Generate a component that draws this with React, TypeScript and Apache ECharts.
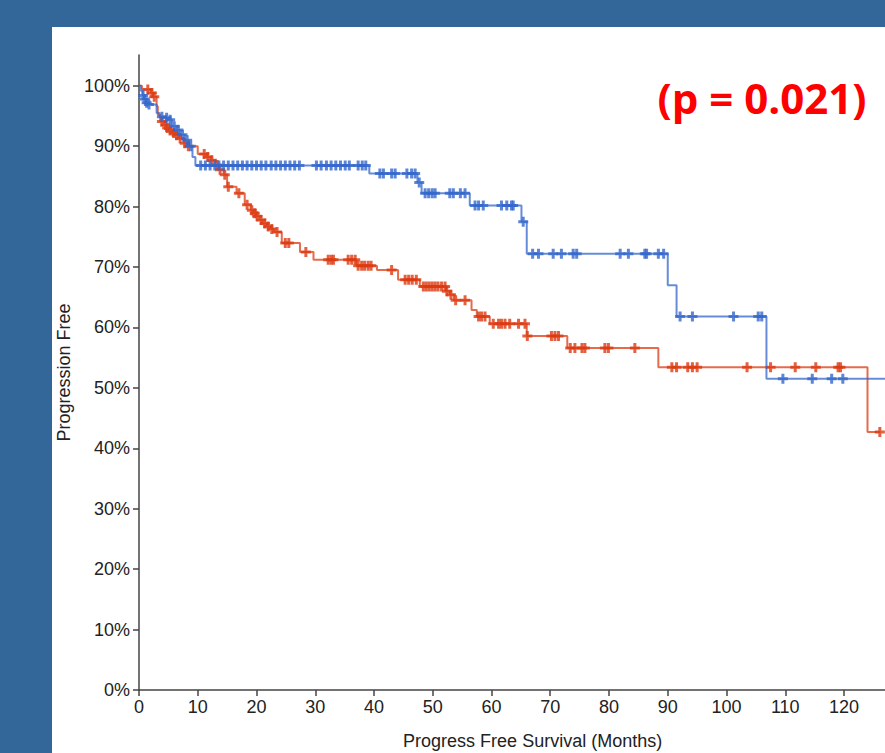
import React, { useEffect, useRef } from "react";
import * as echarts from "echarts";

// ---- data ----
const xTickValues = [0, 10, 20, 30, 40, 50, 60, 70, 80, 90, 100, 110, 120];
const xTickMarks = [0, 10, 20, 30, 40, 50, 60, 70, 80, 90, 100, 110, 120, 130];
const yTickValues = [0, 10, 20, 30, 40, 50, 60, 70, 80, 90, 100];

// Blue group: step times (months) and survival (%) after each step
const blueStepT = [0, 0.3, 0.6, 0.9, 1.2, 1.5, 3.0, 3.5, 4.4, 5.0, 5.6, 6.4, 7.0, 7.8, 8.5, 9.1, 9.6, 39.2, 47.4, 48.1, 56.3, 65.1, 66.0, 90.0, 91.5, 106.8];
const blueStepS = [100, 99.2, 98.4, 97.8, 97.2, 96.9, 95.5, 94.9, 94.7, 94.4, 93.3, 92.7, 91.9, 91.0, 90.0, 88.2, 86.8, 85.5, 84.0, 82.2, 80.2, 77.5, 72.2, 67.0, 61.8, 51.5];
const blueEndT = 134;
const blueCensorT = [
  0.7, 1.0, 1.3, 1.7, 3.9, 4.7, 5.3, 6.0, 6.7, 7.4, 8.2, 8.8,
  10.5, 11.3, 12.1, 12.9, 13.6, 14.4, 15.2, 16.0, 16.8, 17.6, 18.4, 19.2, 20.0, 20.8, 21.6, 22.5, 23.3, 24.1, 24.9, 25.7, 26.5, 27.3,
  30.2, 31.0, 31.9, 32.7, 33.5, 34.3, 35.1, 35.8, 37.3, 38.0, 38.6,
  41.0, 41.6, 43.0, 43.6, 45.6, 46.4, 47.0, 47.7, 48.7, 49.3, 49.9, 50.4, 52.9, 53.5, 54.7, 55.5,
  57.2, 57.8, 58.6, 61.7, 62.6, 63.4, 63.7, 65.4, 67.0, 68.0, 70.5, 71.9, 73.9, 74.5,
  81.9, 83.3, 86.1, 86.4, 88.4, 89.3, 92.1, 94.2, 101.2, 105.4, 106.0, 109.6, 114.6, 117.9, 119.8,
];

// Red group
const redStepT = [0, 0.5, 2.0, 2.4, 3.0, 3.2, 3.6, 4.3, 4.7, 5.1, 5.6, 6.2, 6.8, 7.6, 8.3, 10.0, 11.5, 12.2, 13.0, 13.6, 14.4, 15.0, 16.6, 18.0, 19.0, 19.5, 19.9, 20.5, 21.0, 21.8, 22.4, 23.0, 24.3, 27.4, 29.7, 37.0, 40.5, 44.1, 47.8, 52.3, 52.9, 53.6, 56.6, 57.5, 59.7, 66.0, 72.9, 88.4, 124.0];
const redStepS = [100, 99.4, 98.8, 98.2, 96.6, 95.2, 94.1, 93.5, 93.0, 92.6, 92.2, 91.8, 91.3, 90.5, 90.0, 88.7, 88.2, 87.7, 86.9, 86.1, 85.3, 83.3, 82.2, 80.3, 79.4, 78.9, 78.4, 77.8, 77.2, 76.7, 76.3, 75.8, 74.0, 72.5, 71.2, 70.2, 69.5, 67.9, 66.8, 66.0, 65.4, 64.5, 62.9, 61.8, 60.6, 58.6, 56.6, 53.4, 42.7];
const redEndT = 126.2;
const redCensorT = [
  1.5, 2.2, 2.6, 3.9, 4.5, 4.8, 5.3, 5.9, 6.4, 7.0, 7.8, 8.4,
  11.1, 11.7, 12.4, 13.3, 13.8, 14.6, 15.2, 17.0, 18.4, 19.2, 19.7, 20.1, 20.8, 21.4, 22.0, 22.6, 23.5, 24.9, 25.5, 28.4,
  32.2, 32.7, 33.1, 35.6, 36.2, 36.8, 37.3, 37.9, 38.4, 39.0, 39.5, 43.0, 45.3, 45.9, 46.5, 47.2,
  48.4, 48.9, 49.4, 49.9, 50.4, 50.9, 51.5, 52.1, 52.4, 53.1, 53.9, 55.5, 57.8, 58.3, 58.9,
  60.3, 61.2, 61.7, 62.3, 63.1, 64.6, 65.7, 66.1, 70.2, 70.8, 71.4, 73.4, 74.2, 75.4, 75.9, 79.3, 79.9, 84.4,
  90.7, 91.5, 93.4, 94.2, 95.0, 103.5, 107.5, 111.7, 115.2, 119.0, 119.4, 126.1,
];

const BLUE = "#3366CC";
const RED = "#DC3912";
const PLUS = "path://M3.5,0H6.5V3.5H10V6.5H6.5V10H3.5V6.5H0V3.5H3.5Z";

function survivalAt(ts: number[], ss: number[], t: number): number {
  let s = ss[0];
  for (let i = 0; i < ts.length; i++) if (ts[i] <= t) s = ss[i];
  return s;
}
function stepPoints(ts: number[], ss: number[], endT: number) {
  const pts = ts.map((t, i) => [t, ss[i]]);
  pts.push([endT, ss[ss.length - 1]]);
  return pts;
}
function censorPoints(ct: number[], ts: number[], ss: number[]) {
  return ct.map((t) => [t, survivalAt(ts, ss, t)]);
}

const FONT = "'Liberation Sans', Arial, sans-serif";

export default function App() {
  const ref = useRef<HTMLDivElement>(null);
  useEffect(() => {
    if (!ref.current) return;
    const chart = echarts.init(ref.current, undefined, { renderer: "svg" });
    chart.setOption({
      animation: false,
      grid: { left: 87, top: 28, bottom: 63, right: -41.25, containLabel: false, outerBoundsMode: "none" },
      xAxis: {
        type: "value",
        min: 0,
        max: 134,
        interval: 10,
        name: "Progress Free Survival (Months)",
        nameLocation: "middle",
        nameGap: 42,
        nameTextStyle: { fontSize: 18, color: "#222", fontFamily: FONT },
        axisLine: { show: true, onZero: false, lineStyle: { color: "#444", width: 1.5 } },
        axisTick: { show: true, length: 6, lineStyle: { color: "#444", width: 1.5 }, customValues: xTickMarks },
        axisLabel: { fontSize: 18, color: "#222", fontFamily: FONT, margin: 8, customValues: xTickValues },
        splitLine: { show: false },
      },
      yAxis: {
        type: "value",
        min: 0,
        max: 105.1,
        interval: 10,
        name: "Progression Free",
        nameLocation: "middle",
        nameGap: 65,
        nameTextStyle: { fontSize: 18, color: "#222", fontFamily: FONT },
        axisLine: { show: true, lineStyle: { color: "#444", width: 1.5 } },
        axisTick: { show: true, length: 6, lineStyle: { color: "#444", width: 1.5 }, customValues: yTickValues },
        axisLabel: {
          fontSize: 18,
          color: "#222",
          fontFamily: FONT,
          margin: 9,
          customValues: yTickValues,
          formatter: (v: number) => (v % 10 === 0 && v <= 100 ? v + "%" : ""),
        },
        splitLine: { show: false },
      },
      graphic: [
        {
          type: "text",
          x: 710,
          y: 70,
          style: {
            text: "(p = 0.021)",
            fill: "#ff0000",
            fontSize: 42,
            fontWeight: "bold",
            fontFamily: "'Open Sans', sans-serif",
            align: "center",
            verticalAlign: "middle",
          },
        },
      ],
      series: [
        {
          type: "line",
          step: "end",
          data: stepPoints(redStepT, redStepS, redEndT),
          showSymbol: false,
          symbol: "none",
          lineStyle: { color: RED, width: 2, opacity: 0.75 },
          z: 2,
        },
        {
          type: "scatter",
          data: censorPoints(redCensorT, redStepT, redStepS),
          symbol: PLUS,
          symbolSize: 10,
          itemStyle: { color: RED },
          z: 3,
        },
        {
          type: "line",
          step: "end",
          data: stepPoints(blueStepT, blueStepS, blueEndT),
          showSymbol: false,
          symbol: "none",
          lineStyle: { color: BLUE, width: 2, opacity: 0.75 },
          z: 4,
        },
        {
          type: "scatter",
          data: censorPoints(blueCensorT, blueStepT, blueStepS),
          symbol: PLUS,
          symbolSize: 10,
          itemStyle: { color: BLUE },
          z: 5,
        },
      ],
    });
    return () => chart.dispose();
  }, []);

  return (
    <div
      style={{
        position: "fixed",
        left: 0,
        top: 0,
        width: 885,
        height: 753,
        overflow: "hidden",
        background: "#336699",
      }}
    >
      <div
        style={{
          position: "absolute",
          left: 52,
          top: 27,
          width: 833,
          height: 726,
          background: "#ffffff",
        }}
      >
        <div ref={ref} style={{ width: 833, height: 726 }} />
      </div>
    </div>
  );
}
